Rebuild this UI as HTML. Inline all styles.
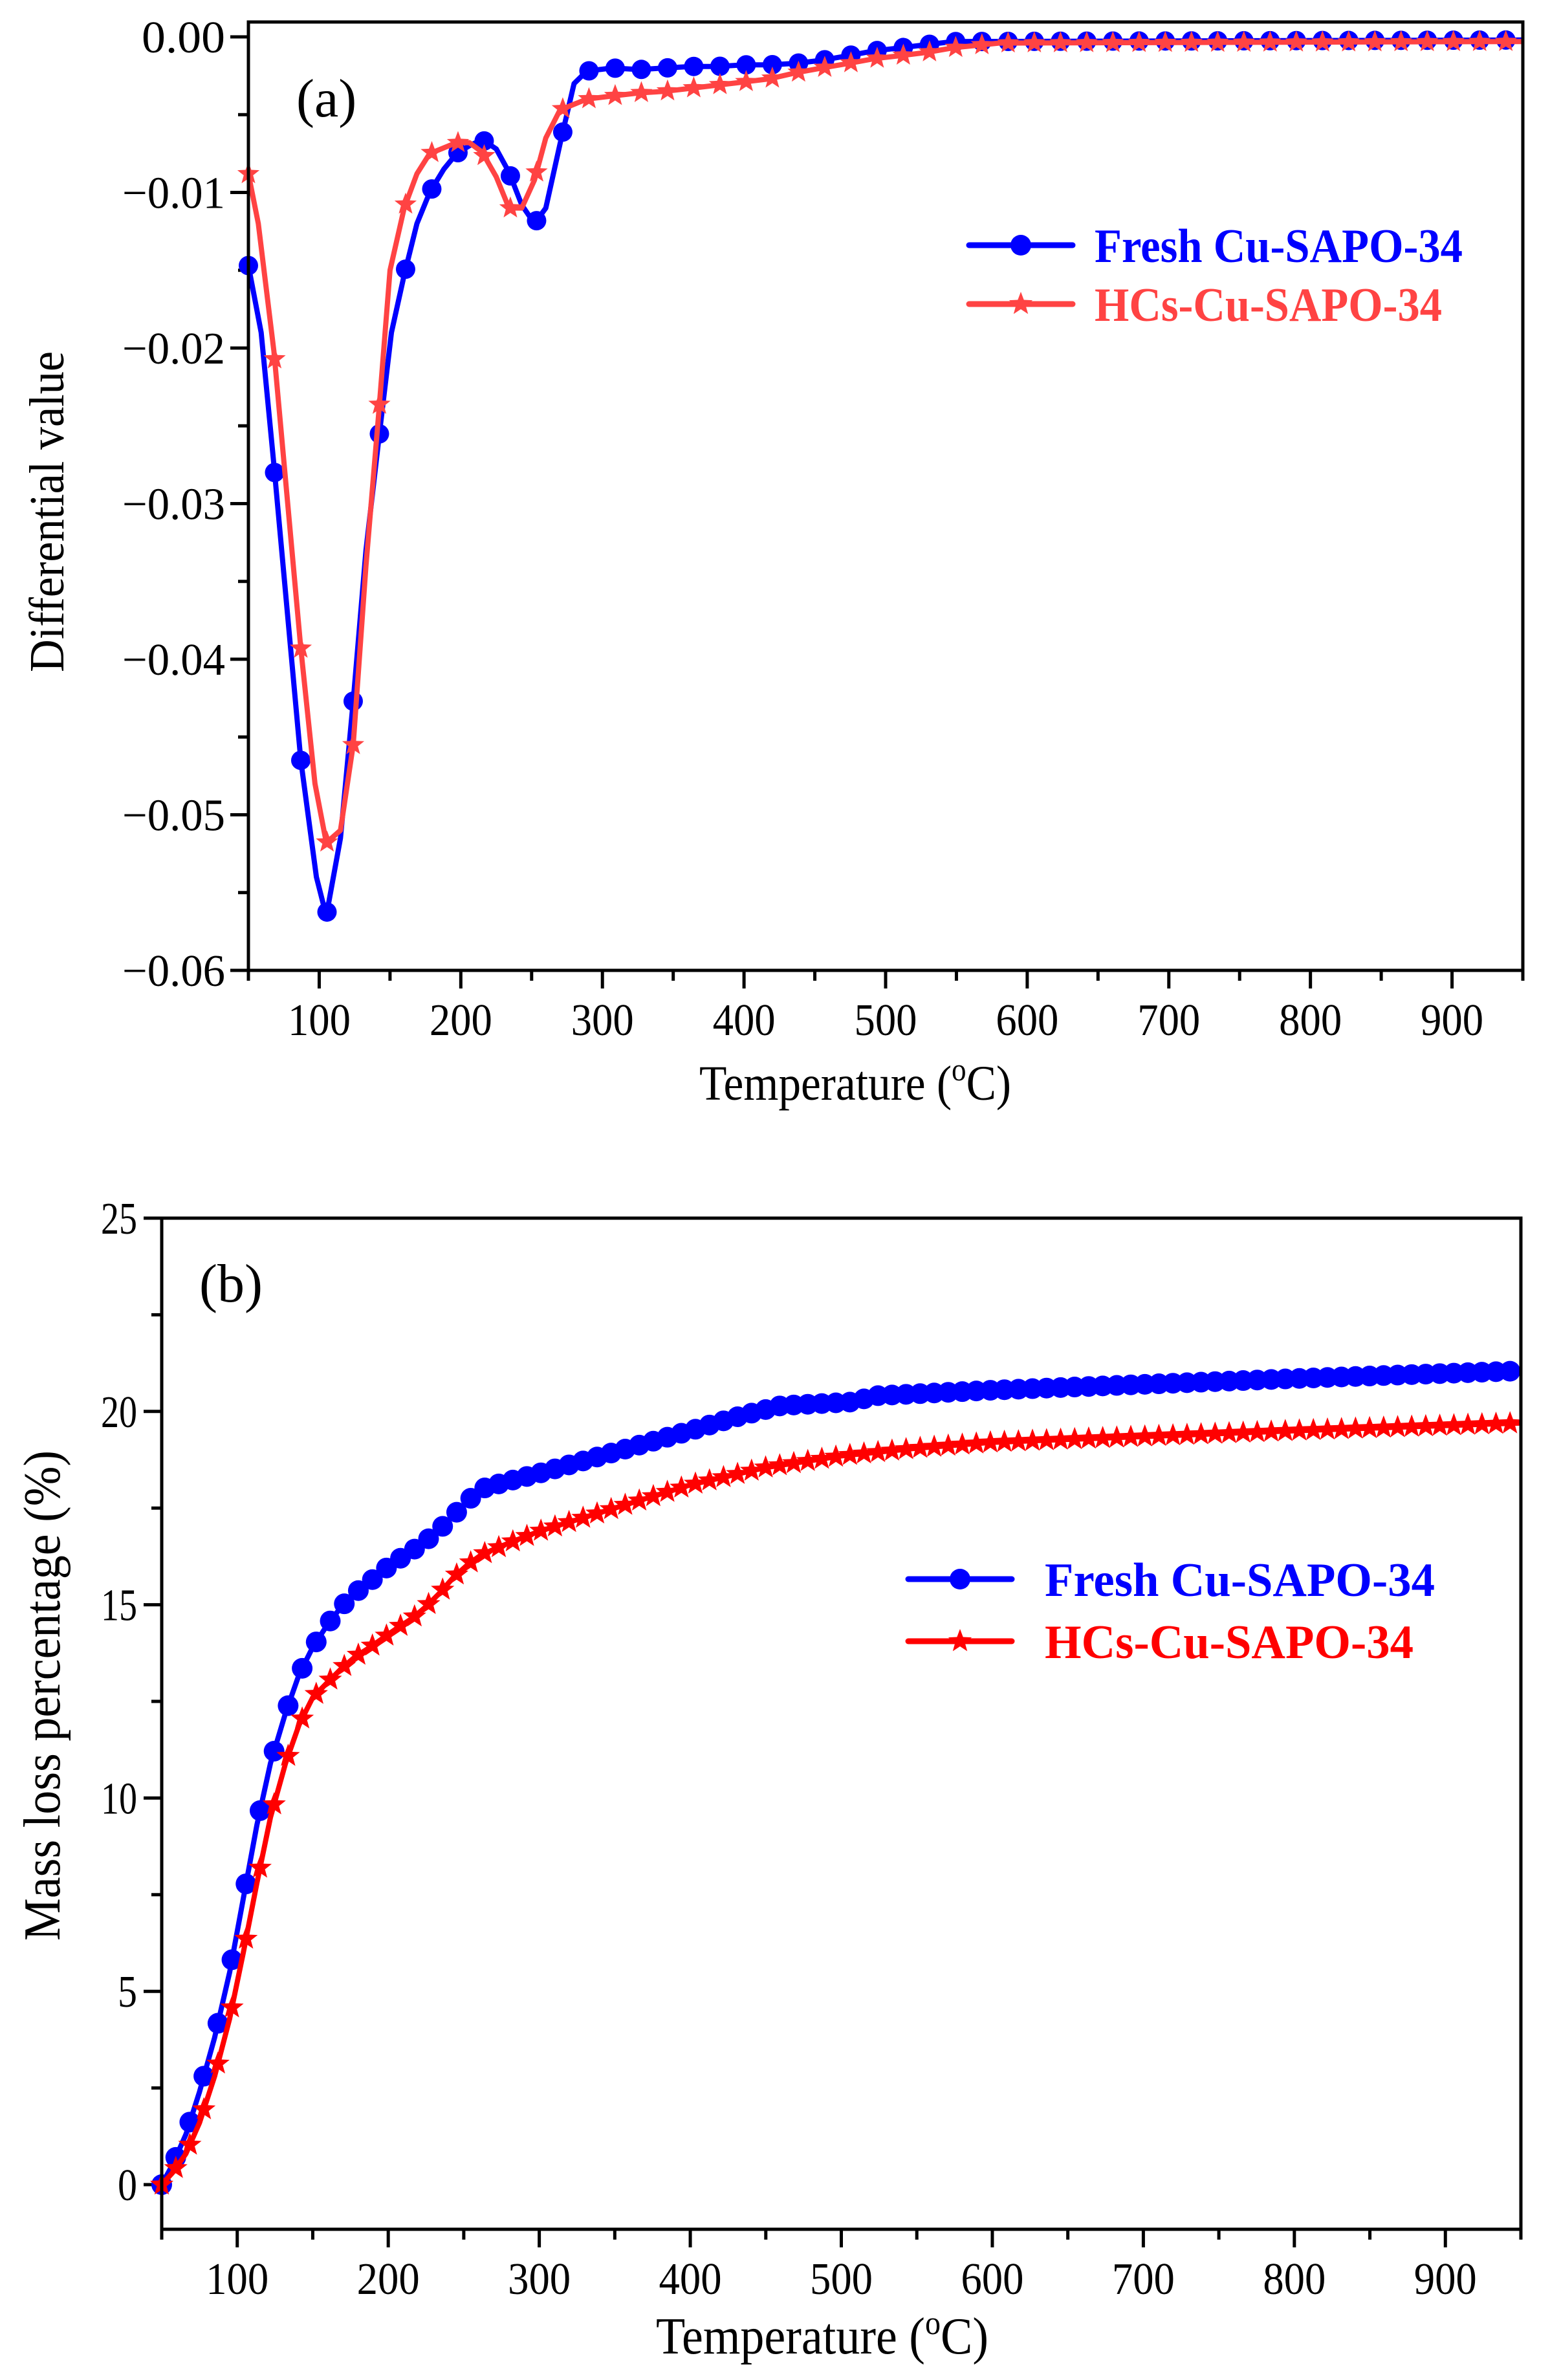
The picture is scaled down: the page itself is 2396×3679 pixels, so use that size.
<!DOCTYPE html>
<html><head><meta charset="utf-8"><style>
html,body{margin:0;padding:0;background:#fff;}
svg{display:block;}
text{font-family:"Liberation Serif",serif;}
</style></head><body>
<svg id="s" width="2396" height="3679" viewBox="0 0 2396 3679" xmlns="http://www.w3.org/2000/svg">
<rect width="2396" height="3679" fill="#fff"/>
<g id="g"></g>
</svg>
<script>
var NS="http://www.w3.org/2000/svg",G=document.getElementById('g');
function el(t,a,txt){var e=document.createElementNS(NS,t);for(var k in a)e.setAttribute(k,a[k]);if(txt!=null)e.textContent=txt;G.appendChild(e);return e;}
function star(cx,cy,R,col){var r=R*0.42,p=[];for(var i=0;i<10;i++){var rr=i%2?r:R,a=-Math.PI/2+i*Math.PI/5;p.push((cx+rr*Math.cos(a)).toFixed(1)+','+(cy+rr*Math.sin(a)).toFixed(1));}el('polygon',{points:p.join(' '),fill:col});}
function interp(pts,x){for(var i=1;i<pts.length;i++){if(x<=pts[i][0]){var a=pts[i-1],b=pts[i];return a[1]+(b[1]-a[1])*(x-a[0])/(b[0]-a[0]);}}return pts[pts.length-1][1];}
function panel(o){
 var X=function(t){return o.x0+(t-50)*(o.x1-o.x0)/900;},Y=function(v){return o.yz+(v-o.vz)*o.ys;};
 for(var t=50;t<=950;t+=50){var major=(t%100==0);var xx=X(t);el('line',{x1:xx,y1:o.yb,x2:xx,y2:o.yb+(major?28:16),stroke:'#000','stroke-width':5});
  if(major)el('text',{x:xx,y:o.xly,'font-size':70,'text-anchor':'middle',textLength:97,lengthAdjust:'spacingAndGlyphs'},String(t));}
 o.yt.forEach(function(q){var yy=Y(q[0]);el('line',{x1:o.x0,y1:yy,x2:o.x0-(q[2]?28:16),y2:yy,stroke:'#000','stroke-width':5});
  if(q[2])el('text',{x:o.ylx,y:yy+24,'font-size':70,'text-anchor':'end',textLength:q[3],lengthAdjust:'spacingAndGlyphs'},q[1]);});
 o.series.forEach(function(s){
  var d=s.pts.map(function(p,i){return (i?'L':'M')+X(p[0]).toFixed(1)+' '+Y(p[1]).toFixed(1);}).join(' ');
  el('path',{d:d,fill:'none',stroke:s.col,'stroke-width':8,'stroke-linejoin':'round'});
  for(var t=50;t<=950.5;t+=s.step){var xx=X(t),yy=Y(interp(s.pts,t));if(s.m=='c')el('circle',{cx:xx,cy:yy,r:o.r,fill:s.col});else star(xx,yy,o.r+3,s.col);}
  el('line',{x1:o.lx,y1:s.ly,x2:o.lx+160,y2:s.ly,stroke:s.col,'stroke-width':9,'stroke-linecap':'round'});
  if(s.m=='c')el('circle',{cx:o.lx+80,cy:s.ly,r:16,fill:s.col});else star(o.lx+80,s.ly,19,s.col);
  el('text',{x:o.ltx,y:s.ly+26,'font-size':74,'font-weight':'bold',fill:s.col,textLength:s.lw,lengthAdjust:'spacingAndGlyphs'},s.name);
 });
 el('rect',{x:o.x0,y:o.yt0,width:o.x1-o.x0,height:o.yb-o.yt0,fill:'none',stroke:'#000','stroke-width':5});
 el('text',{x:o.labx,y:o.laby,'font-size':84},o.lab);
 var xt=el('text',{x:o.xtx,y:o.xty,'font-size':o.tfs,'text-anchor':'middle',textLength:o.xtw,lengthAdjust:'spacingAndGlyphs'});
 xt.innerHTML='Temperature (<tspan font-size="'+(o.tfs*0.65)+'" dy="-30">o</tspan><tspan dy="30">C)</tspan>';
 el('text',{x:0,y:0,'font-size':o.tfs,'text-anchor':'middle',transform:'translate('+o.ytx+','+o.yty+') rotate(-90)',textLength:o.ytw,lengthAdjust:'spacingAndGlyphs'},o.yt_);
}
var freshA=[[50,-0.0147],[59,-0.019],[68,-0.0275],[87,-0.0465],[98,-0.054],[105,-0.0565],[115,-0.0515],[124,-0.0427],[133,-0.033],[142,-0.0259],[151,-0.019],[160,-0.0153],[169,-0.0120],[178,-0.0100],[188,-0.0085],[197,-0.0075],[206,-0.0070],[215,-0.0066],[225,-0.0072],[234,-0.0087],[243,-0.0108],[252,-0.0120],[260,-0.0110],[270,-0.0069],[280,-0.0030],[289,-0.0022],[307,-0.0020],[326,-0.0021],[344,-0.0020],[363,-0.0019],[381,-0.0019],[400,-0.0018],[418,-0.0018],[437,-0.0017],[455,-0.0015],[474,-0.0012],[492,-0.0009],[511,-0.0007],[529,-0.0005],[548,-0.0003],[950,-0.0002]];
var hcA=[[50,-0.0088],[57,-0.012],[68,-0.0202],[87,-0.0393],[97,-0.048],[105,-0.0518],[115,-0.051],[124,-0.0455],[133,-0.034],[142,-0.0242],[150,-0.015],[160,-0.0110],[169,-0.0088],[178,-0.0075],[197,-0.0068],[206,-0.0068],[215,-0.0074],[225,-0.0090],[234,-0.0110],[243,-0.0110],[252,-0.0092],[260,-0.0065],[270,-0.0047],[289,-0.0040],[307,-0.0038],[326,-0.0036],[344,-0.0035],[363,-0.0033],[381,-0.0031],[400,-0.0029],[418,-0.0027],[437,-0.0023],[455,-0.0020],[474,-0.0017],[492,-0.0014],[511,-0.0012],[529,-0.0010],[548,-0.0007],[580,-0.0004],[950,-0.0003]];
var yta=[];for(var i=0;i<=12;i++){var v=-i*0.005;var maj=i%2==0;var lbl=(i==0?'0.00':'\u2212'+(i/200).toFixed(2));yta.push([v,lbl,maj,i==0?129:159]);}
panel({x0:384,x1:2354,yz:57,vz:0,ys:-(1500-57)/0.06,yt0:34,yb:1500,xly:1600,ylx:348,yt:yta,r:15,
 lx:1498,ltx:1692,lab:'(a)',labx:458,laby:180,xtx:1322,xty:1700,xtw:482,tfs:76,ytx:98,yty:791,ytw:496,yt_:'Differential value',
 series:[{pts:freshA,col:'#0000ff',m:'c',step:18.5,ly:379,name:'Fresh Cu-SAPO-34',lw:569},{pts:hcA,col:'#ff4343',m:'s',step:18.5,ly:470,name:'HCs-Cu-SAPO-34',lw:537}]});
var freshB=[[50,0],[57,0.5],[66,1.3],[75,2.4],[85,3.8],[95,5.5],[104,7.4],[113,9.3],[122,10.9],[132,12.2],[141,13.2],[150,13.9],[160,14.5],[169,14.95],[178,15.3],[188,15.6],[197,15.9],[206,16.15],[216,16.4],[225,16.65],[234,16.95],[243,17.3],[253,17.7],[262,18.0],[280,18.2],[300,18.4],[350,18.95],[400,19.5],[430,19.85],[460,20.15],[510,20.25],[520,20.4],[600,20.55],[700,20.7],[800,20.85],[950,21.05]];
var hcB=[[50,0],[57,0.3],[66,0.8],[75,1.6],[85,2.8],[95,4.3],[104,6.0],[113,7.8],[122,9.5],[132,10.9],[141,11.9],[150,12.6],[160,13.0],[169,13.35],[178,13.65],[188,13.9],[197,14.15],[206,14.4],[216,14.65],[225,14.95],[234,15.3],[243,15.7],[253,16.05],[262,16.3],[280,16.6],[300,16.9],[350,17.5],[400,18.1],[450,18.55],[500,18.85],[550,19.05],[600,19.2],[700,19.35],[800,19.5],[950,19.7]];
var ytb=[];for(var i=0;i<=10;i++){var v=i*2.5;var maj=i%2==0;ytb.push([v,String(v),maj,v>=10?56:30]);}
panel({x0:250,x1:2351,yz:3377,vz:0,ys:-(3377-1883)/25,yt0:1883,yb:3446,xly:3546,ylx:212,yt:ytb,r:16,
 lx:1404,ltx:1615,lab:'(b)',labx:308,laby:2012,xtx:1271,xty:3638,xtw:514,tfs:80,ytx:92,yty:2621,ytw:758,yt_:'Mass loss percentage (%)',
 series:[{pts:freshB,col:'#0000ff',m:'c',step:9.3,ly:2441,name:'Fresh Cu-SAPO-34',lw:603},{pts:hcB,col:'#ff0000',m:'s',step:9.3,ly:2537,name:'HCs-Cu-SAPO-34',lw:570}]});
</script>
</body></html>
